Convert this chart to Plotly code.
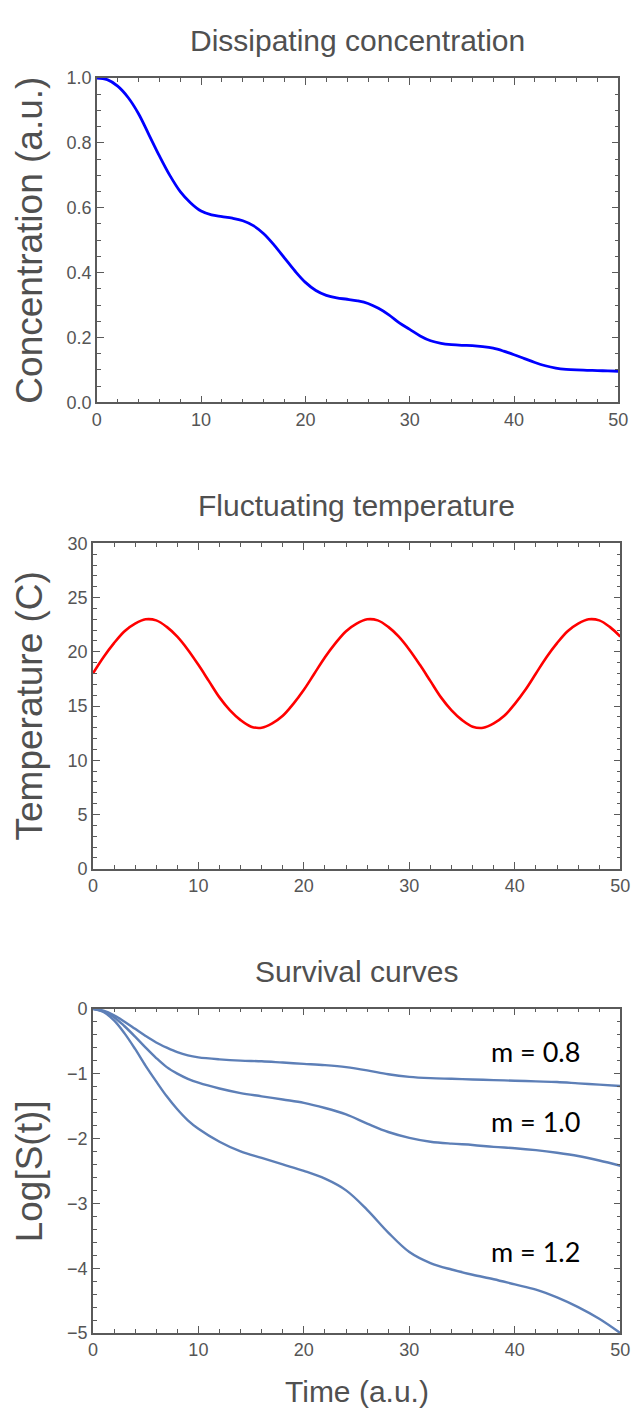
import plotly.graph_objects as go

# ---------------- data ----------------
t_conc = list(range(0, 51))
concentration = [1.0, 0.995, 0.975, 0.94, 0.89, 0.825, 0.76, 0.70, 0.65, 0.615,
                 0.59, 0.578, 0.573, 0.568, 0.56, 0.545, 0.52, 0.485, 0.445, 0.405,
                 0.37, 0.345, 0.33, 0.322, 0.318, 0.313, 0.305, 0.29, 0.27, 0.245,
                 0.225, 0.205, 0.19, 0.182, 0.178, 0.176, 0.175, 0.172, 0.167, 0.158,
                 0.147, 0.135, 0.123, 0.113, 0.106, 0.102, 0.100, 0.099, 0.098, 0.097,
                 0.096]

t_temp = list(range(0, 51))
temperature = [18.0, 19.5, 20.8, 21.9, 22.6, 23.0, 22.9, 22.3, 21.4, 20.2,
               18.8, 17.3, 15.8, 14.6, 13.7, 13.1, 13.0, 13.4, 14.1, 15.2,
               16.5, 18.0, 19.5, 20.8, 21.9, 22.6, 23.0, 22.9, 22.3, 21.4,
               20.2, 18.8, 17.3, 15.8, 14.6, 13.7, 13.1, 13.0, 13.4, 14.1,
               15.2, 16.5, 18.0, 19.5, 20.8, 21.9, 22.6, 23.0, 22.9, 22.3,
               21.4]

t_surv = [0, 1, 2, 3, 4, 5, 6, 7, 8, 9, 10, 12, 14, 16, 18, 20, 22, 24, 26, 28,
          30, 32, 34, 36, 38, 40, 42, 44, 46, 48, 50]
surv_m08 = [0, -0.03, -0.1, -0.2, -0.31, -0.42, -0.52, -0.6, -0.67, -0.72, -0.75,
            -0.78, -0.8, -0.81, -0.83, -0.85, -0.87, -0.9, -0.95, -1.01, -1.05,
            -1.07, -1.08, -1.09, -1.1, -1.11, -1.12, -1.13, -1.15, -1.17, -1.19]
surv_m10 = [0, -0.04, -0.13, -0.27, -0.43, -0.6, -0.76, -0.9, -1.0, -1.08, -1.14,
            -1.23, -1.3, -1.35, -1.4, -1.45, -1.53, -1.63, -1.77, -1.9, -1.99,
            -2.05, -2.08, -2.1, -2.13, -2.15, -2.18, -2.22, -2.27, -2.34, -2.42]
surv_m12 = [0, -0.05, -0.18, -0.38, -0.62, -0.88, -1.12, -1.35, -1.55, -1.72, -1.85,
            -2.05, -2.2, -2.3, -2.4, -2.5, -2.62, -2.8, -3.1, -3.45, -3.75,
            -3.92, -4.02, -4.1, -4.17, -4.25, -4.33, -4.45, -4.6, -4.78, -5.0]
m_labels = ["m = 0.8", "m = 1.0", "m = 1.2"]
m_label_y = [-0.66, -1.74, -3.74]
m_label_x = 42.0

titles = ["Dissipating concentration", "Fluctuating temperature", "Survival curves"]
ytitles = ["Concentration (a.u.)", "Temperature (C)", "Log[S(t)]"]
xtitle = "Time (a.u.)"

# ---------------- layout helpers ----------------
W, H = 644, 1420
FONT = "Liberation Sans, Arial, sans-serif"
FRAME = "#5a5a5a"
TXT = "#555555"

def px_x(p):
    return p / W

def px_y(p):
    return 1 - p / H

# pixel boxes: (left, right, top, bottom)
boxes = [(94, 628, 69, 398), (90, 630, 541, 871), (90, 630, 1013, 1342)]

fig = go.Figure()
fig.add_trace(go.Scatter(x=t_conc, y=concentration, mode="lines", line=dict(color="#0000ff", width=2.8, shape="spline"),
                         xaxis="x", yaxis="y", showlegend=False))
fig.add_trace(go.Scatter(x=t_temp, y=temperature, mode="lines", line=dict(color="#ff0000", width=2.6, shape="spline"),
                         xaxis="x2", yaxis="y2", showlegend=False))
for s in (surv_m08, surv_m10, surv_m12):
    fig.add_trace(go.Scatter(x=t_surv, y=s, mode="lines", line=dict(color="#5d7fb7", width=2.4, shape="spline"),
                             xaxis="x3", yaxis="y3", showlegend=False))

yranges = [[0, 1.0], [0, 30], [-5, 0]]
ydticks = [0.2, 5, 1]
yminor = [0.05, 1, 0.2]
yformats = [".1f", "d", "d"]

layout = dict(width=W, height=H, margin=dict(l=0, r=0, t=0, b=0),
              paper_bgcolor="white", plot_bgcolor="white",
              font=dict(family=FONT, color=TXT), annotations=[])

for i, (l, r, tp, bt) in enumerate(boxes):
    sfx = "" if i == 0 else str(i + 1)
    layout["xaxis" + sfx] = dict(
        domain=[px_x(l), px_x(r)], anchor="y" + sfx, range=[0, 50],
        showgrid=False, zeroline=False, showline=True, linecolor=FRAME, linewidth=1.5,
        mirror="allticks", ticks="inside", ticklen=7, tickwidth=1.2, tickcolor=FRAME,
        dtick=10, tick0=0, tickfont=dict(size=18, color=TXT, family=FONT),
        minor=dict(ticks="inside", ticklen=4, tickwidth=1, tickcolor=FRAME, dtick=2, showgrid=False),
        fixedrange=True)
    layout["yaxis" + sfx] = dict(
        domain=[px_y(bt), px_y(tp)], anchor="x" + sfx, range=yranges[i],
        showgrid=False, zeroline=False, showline=True, linecolor=FRAME, linewidth=1.5,
        mirror="allticks", ticks="inside", ticklen=7, tickwidth=1.2, tickcolor=FRAME,
        dtick=ydticks[i], tick0=0, tickformat=yformats[i],
        tickfont=dict(size=18, color=TXT, family=FONT),
        minor=dict(ticks="inside", ticklen=4, tickwidth=1, tickcolor=FRAME, dtick=yminor[i], showgrid=False),
        fixedrange=True)
    # panel title
    layout["annotations"].append(dict(
        text=titles[i], xref="paper", yref="paper", x=px_x((l + r) / 2), y=px_y(tp - 38),
        xanchor="center", yanchor="middle", showarrow=False,
        font=dict(size=30, color="#505050", family=FONT)))
    # y axis title
    layout["annotations"].append(dict(
        text=ytitles[i], xref="paper", yref="paper", x=px_x(25), y=px_y((tp + bt) / 2),
        xanchor="center", yanchor="middle", showarrow=False, textangle=-90,
        font=dict(size=37, color="#505050", family=FONT)))

# x axis title (bottom panel)
l, r, tp, bt = boxes[2]
layout["annotations"].append(dict(
    text=xtitle, xref="paper", yref="paper", x=px_x((l + r) / 2), y=px_y(1401),
    xanchor="center", yanchor="middle", showarrow=False,
    font=dict(size=30, color="#505050", family=FONT)))

for lab, yy in zip(m_labels, m_label_y):
    layout["annotations"].append(dict(
        text=lab, xref="x3", yref="y3", x=m_label_x, y=yy,
        xanchor="center", yanchor="middle", showarrow=False,
        font=dict(size=27, color="#000000", family="Lato, Noto Sans, sans-serif")))

fig.update_layout(**layout)
fig.write_html("out.html")
